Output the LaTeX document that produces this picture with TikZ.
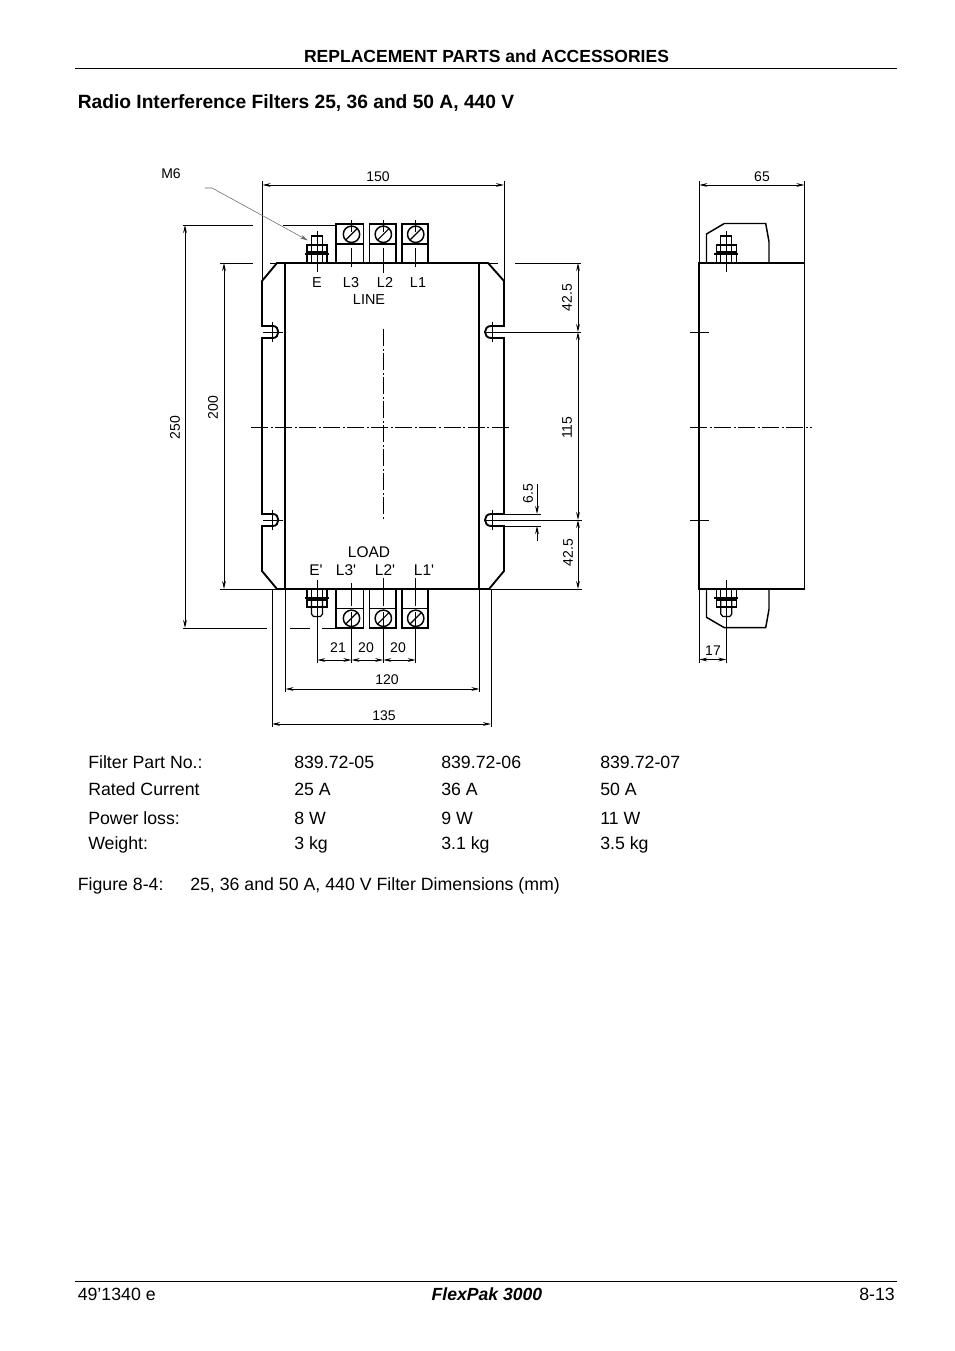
\documentclass[tikz,border=0pt]{standalone}
\usepackage{fontspec}
\setmainfont{Liberation Sans}
\usetikzlibrary{arrows.meta}
\tikzset{
  x=0.75pt,y=-0.75pt,
  thin line/.style={line width=0.7pt,black},
  thick line/.style={line width=1.4pt,black,line join=miter},
  center line/.style={line width=0.75pt,black,dash pattern=on 12.75pt off 1.9pt on 1.5pt off 1.9pt},
  dim/.style={line width=0.7pt,black,{Stealth[length=6pt,width=2.8pt]}-{Stealth[length=6pt,width=2.8pt]}},
  dimend/.style={line width=0.7pt,black,-{Stealth[length=6pt,width=2.8pt]}},
  leader/.style={line width=0.4pt,black!60,-{Stealth[length=6pt,width=2.8pt]}},
  lab/.style={inner sep=0pt,yshift=-0.5pt,font=\fontsize{10.5pt}{12pt}\selectfont},
  labmid/.style={inner sep=0pt,anchor=base,font=\fontsize{10.8pt}{12pt}\selectfont},
  labbig/.style={inner sep=0pt,anchor=base,font=\fontsize{11.6pt}{13pt}\selectfont},
  rot/.style={lab,rotate=90},
  body/.style={inner sep=0pt,anchor=base west,font=\fontsize{13.3pt}{16pt}\selectfont},
  head/.style={inner sep=0pt,font=\fontsize{13.15pt}{16pt}\selectfont\bfseries},
}
\newcommand{\termtop}[3]{% left right center
  \draw[thick line] (#1,263) -- (#1,224) -- (#2,224) -- (#2,263);
  \draw[thin line,line width=0.9pt] (#1,244) -- (#2,244);
  \draw[thick line,line width=1.1pt] (#3,234.3) circle[radius=8.2];
  \draw[thin line,line width=0.9pt] (#3-6,240.3) -- (#3+6,228.3);
}
\newcommand{\termbot}[3]{%
  \draw[thick line] (#1,589) -- (#1,628) -- (#2,628) -- (#2,589);
  \draw[thin line,line width=0.9pt] (#1,608.3) -- (#2,608.3);
  \draw[thick line,line width=1.1pt] (#3,618.3) circle[radius=8.2];
  \draw[thin line,line width=0.9pt] (#3-6,624.3) -- (#3+6,612.3);
}
\newcommand{\bolttop}[1]{%
  \draw[thin line,line width=0.9pt] (#1-5.5,245) rectangle (#1+5.5,236);
  \draw[thin line,line width=0.9pt] (#1-10,252) rectangle (#1+10,245);
  \draw[thin line,line width=0.9pt] (#1-10,263) -- (#1-10,255) (#1+10,263) -- (#1+10,255);
  \draw[thin line,line width=0.9pt] (#1-5.5,245) -- (#1-5.5,263) (#1+5.5,245) -- (#1+5.5,263);
  \draw[thick line,line width=1.5pt] (#1-12,254) -- (#1+12,254);
}
\newcommand{\boltbot}[1]{%
  \draw[thin line,line width=0.9pt] (#1-10,589) -- (#1-10,597) (#1+10,589) -- (#1+10,597);
  \draw[thin line,line width=0.9pt] (#1-10,600) rectangle (#1+10,607);
  \draw[thin line,line width=0.9pt] (#1-5.5,589) -- (#1-5.5,597) (#1+5.5,589) -- (#1+5.5,597);
  \draw[thin line,line width=0.9pt] (#1-5.5,600) -- (#1-5.5,614) -- (#1-3.5,616.5) -- (#1+3.5,616.5) -- (#1+5.5,614) -- (#1+5.5,600);
  \draw[thick line,line width=1.5pt] (#1-12,598) -- (#1+12,598);
}
\begin{document}
\begin{tikzpicture}
\useasboundingbox (0,0) rectangle (954,1351);
\fill[white] (0,0) rectangle (954,1351);
% page furniture
\draw[thin line] (75,68) -- (897,68);
\draw[thin line] (75,1281) -- (897,1281);
\node[head] (hd) at (486.5,56) {REPLACEMENT PARTS and ACCESSORIES};
\node[head,anchor=base west,font=\fontsize{14.4pt}{16pt}\selectfont\bfseries] (ttl) at (77.5,108.5) {Radio Interference Filters 25, 36 and 50 A, 440 V};
% main body
\draw[thick line] (285,263) rectangle (479,589);
\draw[thick line] (285,263) -- (277,263) -- (262,281) -- (262,326) -- (273,326)
  .. controls (280,326) and (280,338) .. (273,338) -- (262,338) -- (262,514) -- (273,514)
  .. controls (280,514) and (280,526) .. (273,526) -- (262,526) -- (262,571) -- (277,589) -- (285,589);
\draw[thick line] (479,263) -- (488,263) -- (504,281) -- (504,326) -- (491,326)
  .. controls (483,326) and (483,338) .. (491,338) -- (504,338) -- (504,514) -- (491,514)
  .. controls (483,514) and (483,526) .. (491,526) -- (504,526) -- (504,571) -- (489,589) -- (479,589);
% terminals
\termtop{336}{363.5}{351.5}
\termtop{369.5}{395.7}{383.3}
\termtop{402}{427.7}{415.7}
\termbot{336}{363.5}{351.5}
\termbot{369.5}{395.7}{383.3}
\termbot{402}{427.7}{415.7}
\bolttop{317}
\boltbot{317}
% center lines
\draw[center line] (251,427) -- (511,427);
\draw[center line] (383.3,329) -- (383.3,520);
\draw[thin line] (351.5,220) -- (351.5,232) (351.5,248) -- (351.5,267);
\draw[thin line] (383.3,220) -- (383.3,232) (383.3,248) -- (383.3,273);
\draw[thin line] (415.7,220) -- (415.7,232) (415.7,248) -- (415.7,267);
\draw[thin line] (317.3,231) -- (317.3,272);
\draw[thin line] (351.5,583) -- (351.5,606) (351.5,612) -- (351.5,663);
\draw[thin line] (383.3,578) -- (383.3,606) (383.3,612) -- (383.3,663);
\draw[thin line] (415.7,578) -- (415.7,606) (415.7,612) -- (415.7,663);
\draw[thin line] (317.3,580) -- (317.3,663);
% notch centre marks
\foreach \y in {332,520}{
  \draw[thin line] (272,\y-10) -- (272,\y+10);
  \draw[thin line] (263,\y) -- (283,\y);
  \draw[thin line] (492,\y-10) -- (492,\y+10);
}
\draw[thin line] (484,332) -- (581,332);
\draw[thin line] (484,520) -- (582,520);
% extension lines
\draw[thin line] (262.5,181) -- (262.5,281);
\draw[thin line] (504,181) -- (504,281);
\draw[thin line] (183,225) -- (253,225) (283,225) -- (336,225);
\draw[thin line] (220,263) -- (253,263) (270,263) -- (285,263) (479,263) -- (498,263) (515,263) -- (581,263);
\draw[thin line] (220,589) -- (582,589);
\draw[thin line] (183,628) -- (267,628) (290,628) -- (310,628) (322,628) -- (336,628);
\draw[thin line] (272,589) -- (272,727) (491,589) -- (491,727);
\draw[thin line] (285.5,589) -- (285.5,692) (479.5,589) -- (479.5,692);
\draw[thin line] (504,514) -- (541,514) (504,526) -- (541,526);
% dimensions
\draw[dim] (262.5,185) -- (504,185);
\draw[dim] (185,225) -- (185,628);
\draw[dim] (224,263) -- (224,589);
\draw[dim] (578,263) -- (578,332);
\draw[dim] (578,332) -- (578,520);
\draw[dim] (578,520) -- (578,589);
\draw[dimend] (537,484) -- (537,514);
\draw[dimend] (537,541) -- (537,526);
\draw[dim] (317.3,660) -- (351.5,660);
\draw[dim] (351.5,660) -- (383.3,660);
\draw[dim] (383.3,660) -- (415.7,660);
\draw[dim] (285.5,689) -- (479.5,689);
\draw[dim] (272,724) -- (491,724);
% leader
\coordinate (la) at (205,188);
\coordinate (lb) at (212,188);
\coordinate (lc) at (308,240.5);
\draw[leader] (la) -- (lb) -- (lc);
% side view
\draw[thick line] (699.3,263) rectangle (804.5,589);
\draw[thick line,line width=1.1pt] (706.5,263) -- (706.5,234) -- (724.3,223.5) -- (765.7,223.5) -- (769,241.7) -- (769,263);
\draw[thick line,line width=1.1pt] (706.5,589) -- (706.5,617.3) -- (724.3,627.7) -- (765.7,627.7) -- (769,609.3) -- (769,589);
\bolttop{726.3}
\boltbot{726.3}
\draw[thin line] (726.3,231) -- (726.3,272);
\draw[thin line] (726.3,580) -- (726.3,663);
\draw[center line] (690,427) -- (812,427);
\draw[thin line] (690,332) -- (709,332) (690,520) -- (709,520);
\draw[thin line] (699.3,181) -- (699.3,263) (804.5,181) -- (804.5,263);
\draw[thin line] (699.3,589) -- (699.3,663);
\draw[dim] (699.3,185) -- (804.5,185);
\draw[dim] (699.3,659.5) -- (726.3,659.5);
% labels
\node[lab] (m6) at (171,173) {M6};
\node[lab] (d150) at (378,176) {150};
\node[lab] (d65) at (762,176) {65};
\node[rot] (d250) at (175,427) {250};
\node[rot] (d200) at (213,407) {200};
\node[rot] (d425a) at (567,297) {42.5};
\node[rot] (d115) at (567,427) {115};
\node[rot] (d65b) at (528,493) {6.5};
\node[rot] (d425b) at (568,552) {42.5};
\node[labmid] (e) at (317,288) {E};
\node[labmid] (l3) at (351,288) {L3};
\node[labmid] (l2) at (385,288) {L2};
\node[labmid] (l1) at (418,288) {L1};
\node[labmid] (line) at (369,305) {LINE};
\node[labbig] (load) at (369,557) {LOAD};
\node[labbig] (ep) at (316,575) {E\textquotesingle};
\node[labbig] (l3p) at (346,575) {L3\textquotesingle};
\node[labbig] (l2p) at (385,575) {L2\textquotesingle};
\node[labbig] (l1p) at (424,575) {L1\textquotesingle};
\node[lab] (d21) at (338,647) {21};
\node[lab] (d20a) at (366,647) {20};
\node[lab] (d20b) at (398,647) {20};
\node[lab] (d120) at (387,679) {120};
\node[lab] (d135) at (384,715) {135};
\node[lab] (d17) at (713,650) {17};
% table
\node[body] (r1a) at (88,768) {Filter Part No.:};
\node[body] (r1b) at (294,768) {839.72-05};
\node[body] (r1c) at (441,768) {839.72-06};
\node[body] (r1d) at (600,768) {839.72-07};
\node[body] (r2a) at (88,795) {Rated Current};
\node[body] (r2b) at (294,795) {25 A};
\node[body] (r2c) at (441,795) {36 A};
\node[body] (r2d) at (600,795) {50 A};
\node[body] (r3a) at (88,824) {Power loss:};
\node[body] (r3b) at (294,824) {8 W};
\node[body] (r3c) at (441,824) {9 W};
\node[body] (r3d) at (600,824) {11 W};
\node[body] (r4a) at (88,849) {Weight:};
\node[body] (r4b) at (294,849) {3 kg};
\node[body] (r4c) at (441,849) {3.1 kg};
\node[body] (r4d) at (600,849) {3.5 kg};
\node[body] (capa) at (77.5,890) {Figure 8-4:};
\node[body] (capb) at (190,890) {25, 36 and 50 A, 440 V Filter Dimensions (mm)};
% footer
\node[body] (fa) at (77.5,1300) {49’1340 e};
\node[body,anchor=base,font=\fontsize{13.2pt}{16pt}\selectfont\bfseries\itshape] (fb) at (487,1300) {FlexPak 3000};
\node[body,anchor=base east] (fc) at (895,1300) {8-13};
\end{tikzpicture}
\end{document}
